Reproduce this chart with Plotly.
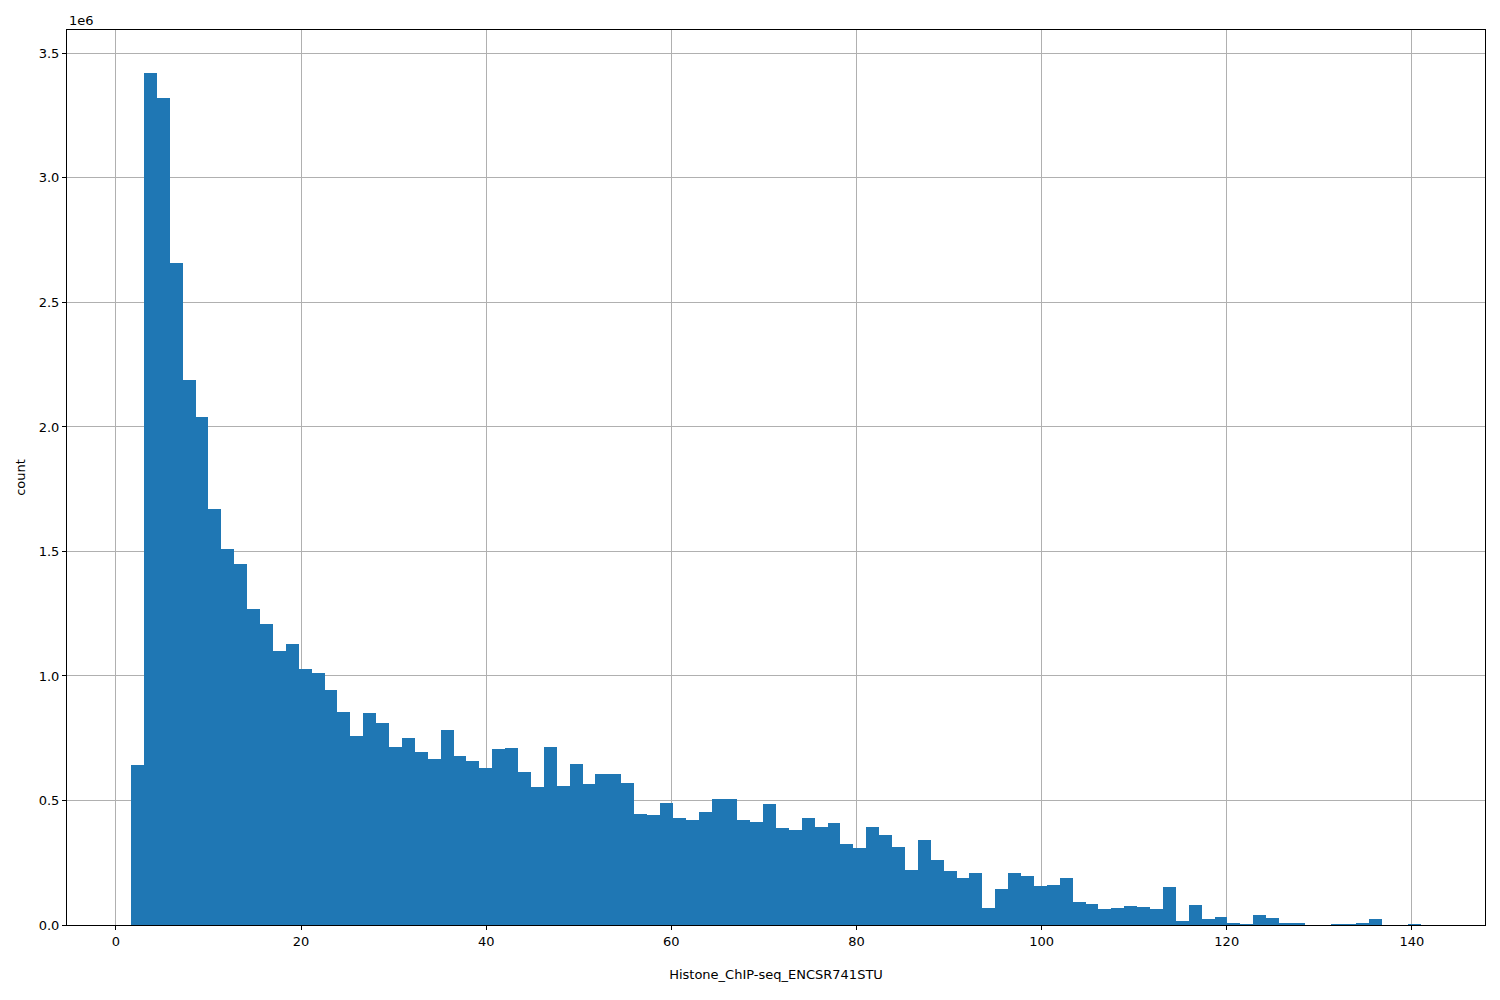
import plotly.graph_objects as go

bin_start = 1.63
bin_width = 1.3935
counts_m = [0.643, 3.42, 3.32, 2.66, 2.19, 2.04, 1.67, 1.51, 1.45, 1.27,
            1.21, 1.10, 1.13, 1.03, 1.01, 0.945, 0.855, 0.76, 0.85, 0.81,
            0.715, 0.75, 0.695, 0.665, 0.785, 0.68, 0.66, 0.63, 0.705, 0.71,
            0.615, 0.555, 0.715, 0.56, 0.645, 0.565, 0.605, 0.605, 0.57, 0.445,
            0.44, 0.49, 0.43, 0.42, 0.455, 0.505, 0.505, 0.42, 0.415, 0.485,
            0.39, 0.38, 0.43, 0.395, 0.41, 0.325, 0.31, 0.395, 0.36, 0.315,
            0.22, 0.34, 0.26, 0.215, 0.19, 0.21, 0.07, 0.145, 0.21, 0.195,
            0.155, 0.16, 0.19, 0.092, 0.084, 0.064, 0.068, 0.076, 0.072, 0.064,
            0.153, 0.016, 0.080, 0.024, 0.032, 0.008, 0.004, 0.040, 0.028, 0.008,
            0.008, 0.0, 0.0, 0.004, 0.004, 0.008, 0.024, 0.0, 0.0, 0.004]
counts = [c * 1e6 for c in counts_m]
centers = [bin_start + bin_width * (i + 0.5) for i in range(len(counts))]
y_ticks = [0, 0.5e6, 1.0e6, 1.5e6, 2.0e6, 2.5e6, 3.0e6, 3.5e6]
y_text = ["0.0", "0.5", "1.0", "1.5", "2.0", "2.5", "3.0", "3.5"]
x_ticks = [0, 20, 40, 60, 80, 100, 120, 140]

fig = go.Figure(go.Bar(x=centers, y=counts, width=bin_width, marker_color="#1f77b4",
                       marker_line_width=0))
axis_common = dict(showline=True, linecolor="black", linewidth=1, mirror=True,
                   ticks="outside", ticklen=4, tickcolor="black",
                   showgrid=True, gridcolor="#b0b0b0", gridwidth=1, zeroline=False,
                   tickfont=dict(family="DejaVu Sans", size=13, color="black"))
fig.update_layout(
    width=1500, height=1000, plot_bgcolor="white", paper_bgcolor="white",
    margin=dict(l=59, r=23, t=22, b=83), bargap=0, showlegend=False,
    font=dict(family="DejaVu Sans", size=13, color="black"),
    xaxis=dict(range=[-5.29, 147.9], tickvals=x_ticks,
               title=dict(text="Histone_ChIP-seq_ENCSR741STU", standoff=22,
                          font=dict(size=13)), **axis_common),
    yaxis=dict(range=[0, 3.594e6], tickvals=y_ticks, ticktext=y_text,
               title=dict(text="count", standoff=10, font=dict(size=13)), **axis_common),
    annotations=[dict(text="1e6", x=0, y=1, xref="paper", yref="paper",
                      xanchor="left", yanchor="bottom", showarrow=False,
                      font=dict(size=13))],
)
fig.write_html("out.html")
